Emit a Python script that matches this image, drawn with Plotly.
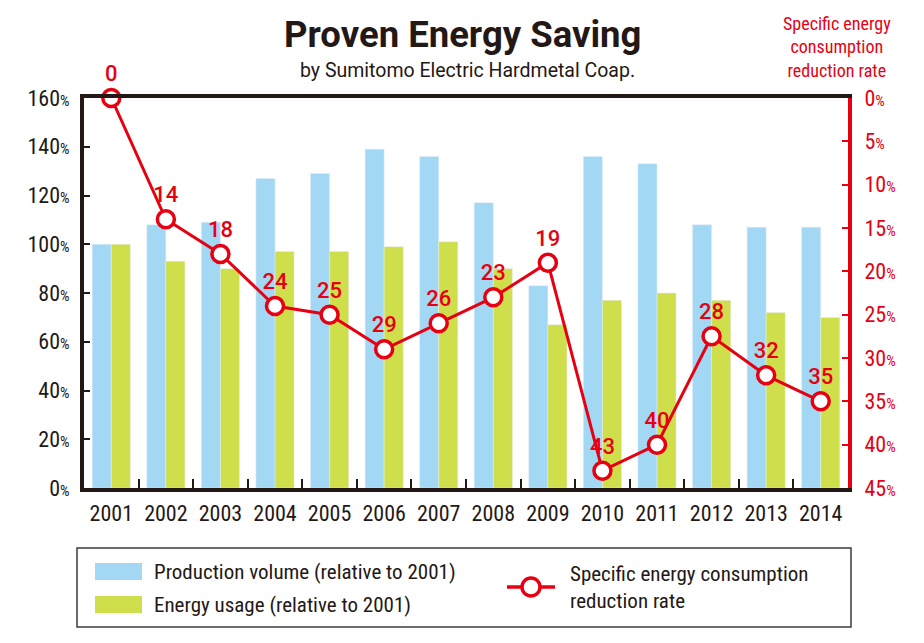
import plotly.graph_objects as go

years = ["2001", "2002", "2003", "2004", "2005", "2006", "2007",
         "2008", "2009", "2010", "2011", "2012", "2013", "2014"]
production = [100, 108, 109, 127, 129, 139, 136, 117, 83, 136, 133, 108, 107, 107]
energy = [100, 93, 90, 97, 97, 99, 101, 90, 67, 77, 80, 77, 72, 70]
reduction = [0, 14, 18, 24, 25, 29, 26, 23, 19, 43, 40, 27.5, 32, 35]
reduction_labels = ["0", "14", "18", "24", "25", "29", "26", "23", "19", "43", "40", "28", "32", "35"]
left_ticks = [0, 20, 40, 60, 80, 100, 120, 140, 160]
right_ticks = [0, 5, 10, 15, 20, 25, 30, 35, 40, 45]

BLUE = "#a3d8f4"
GREEN = "#cfdf4c"
RED = "#e60012"
DARK = "#231815"
COND = "Roboto Condensed, Liberation Sans Narrow, Roboto, sans-serif"
ROBOTO = "Roboto, sans-serif"

W, H = 924, 643
OFF = 8  # page body margin
L, R, T, B = 84 - OFF, 848 - OFF, 98 - OFF, 488 - OFF


def px(x):
    return (x - OFF - L) / (R - L)


def py(y):
    return (B - (y - OFF)) / (B - T)


fig = go.Figure()
fig.add_trace(go.Bar(x=years, y=production, marker_color=BLUE, name="Production volume (relative to 2001)",
                     showlegend=False))
fig.add_trace(go.Bar(x=years, y=energy, marker_color=GREEN, name="Energy usage (relative to 2001)",
                     showlegend=False))
fig.add_trace(go.Scatter(
    x=years, y=reduction, yaxis="y2", mode="lines+markers+text",
    line=dict(color=RED, width=3),
    marker=dict(size=17, color="white", line=dict(color=RED, width=3.5)),
    text=reduction_labels, textposition="top center",
    textfont=dict(family=ROBOTO, size=22, color=RED, weight=500),
    showlegend=False, cliponaxis=False,
))

fig.update_layout(
    width=W, height=H,
    margin=dict(l=L, r=W - R, t=T, b=H - B),
    plot_bgcolor="white", paper_bgcolor="white",
    barmode="group", bargap=0.3, bargroupgap=0,
    xaxis=dict(
        type="category", range=[-0.5, 13.5],
        showline=True, linecolor=DARK, linewidth=4, mirror=True,
        ticks="inside", tickson="boundaries", ticklen=9, tickwidth=1.5, tickcolor=DARK,
        tickfont=dict(family=COND, size=22, color=DARK), ticklabelstandoff=3,
        showgrid=False, zeroline=False,
    ),
    yaxis=dict(
        range=[0, 160], tickvals=left_ticks,
        ticktext=[f"{v}<span style='font-size:15px'>%</span>" for v in left_ticks],
        showline=True, linecolor=DARK, linewidth=4,
        ticks="inside", ticklen=6, tickwidth=2, tickcolor=DARK,
        tickfont=dict(family=COND, size=22, color=DARK), ticklabelstandoff=6,
        showgrid=False, zeroline=False,
    ),
    yaxis2=dict(
        overlaying="y", side="right", range=[45, 0], tickvals=right_ticks,
        ticktext=[f"{v}<span style='font-size:15px'>%</span>" for v in right_ticks],
        showline=True, linecolor=RED, linewidth=4,
        ticks="inside", ticklen=6, tickwidth=2, tickcolor=RED,
        tickfont=dict(family=COND, size=22, color=RED), ticklabelstandoff=8,
        showgrid=False, zeroline=False,
    ),
)

annotations = [
    dict(x=px(462), y=py(35), text="<b>Proven Energy Saving</b>", showarrow=False,
         font=dict(family=ROBOTO, size=36.5, color=DARK), xanchor="center", yanchor="middle"),
    dict(x=px(467), y=py(70), text="by Sumitomo Electric Hardmetal Coap.", showarrow=False,
         font=dict(family=ROBOTO, size=19.5, color=DARK), xanchor="center", yanchor="middle"),
    dict(x=px(837), y=py(47), text="Specific energy<br>consumption<br>reduction rate", showarrow=False,
         font=dict(family=COND, size=18, color=RED), xanchor="center", yanchor="middle", align="center"),
    dict(x=px(152), y=py(572), text="Production volume (relative to 2001)", showarrow=False,
         font=dict(family=COND, size=21, color=DARK), xanchor="left", yanchor="middle"),
    dict(x=px(152), y=py(605), text="Energy usage (relative to 2001)", showarrow=False,
         font=dict(family=COND, size=21, color=DARK), xanchor="left", yanchor="middle"),
    dict(x=px(568), y=py(587), text="Specific energy consumption<br>reduction rate", showarrow=False,
         font=dict(family=COND, size=21, color=DARK), xanchor="left", yanchor="middle", align="left"),
]
for a in annotations:
    a.update(xref="paper", yref="paper")
fig.update_layout(annotations=annotations)

shapes = [
    dict(type="rect", x0=px(77), x1=px(851), y0=py(548), y1=py(627), line=dict(color="#3e3a39", width=1.5),
         fillcolor="rgba(0,0,0,0)"),
    dict(type="rect", x0=px(95), x1=px(142), y0=py(563), y1=py(580), line=dict(width=0), fillcolor=BLUE),
    dict(type="rect", x0=px(95), x1=px(142), y0=py(596), y1=py(613), line=dict(width=0), fillcolor=GREEN),
    dict(type="line", x0=px(507), x1=px(555), y0=py(587), y1=py(587), line=dict(color=RED, width=3.5)),
    dict(type="circle", x0=px(522), x1=px(540), y0=py(578), y1=py(596), line=dict(color=RED, width=3.5),
         fillcolor="white"),
]
for s in shapes:
    s.update(xref="paper", yref="paper")
fig.update_layout(shapes=shapes)

fig.write_html("out.html")
